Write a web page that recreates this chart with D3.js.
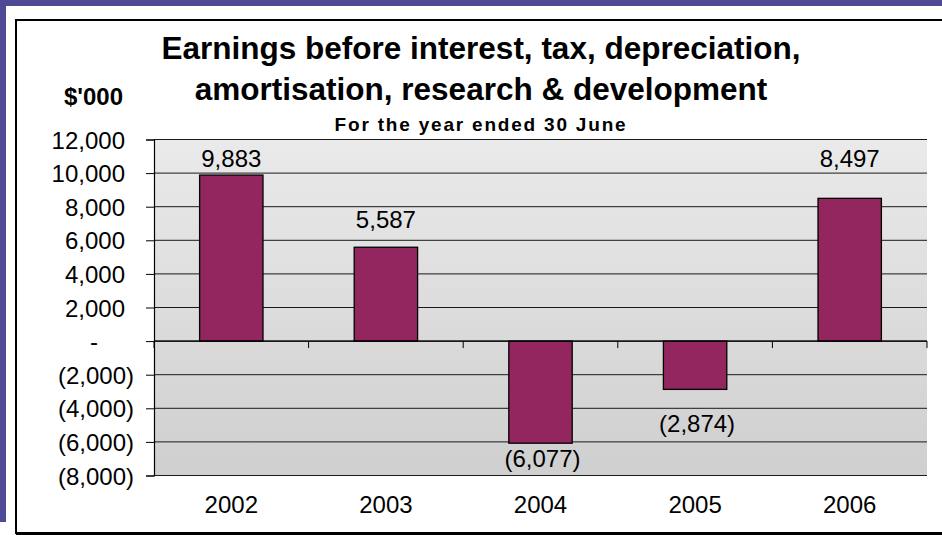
<!DOCTYPE html>
<html>
<head>
<meta charset="utf-8">
<script src="https://cdn.jsdelivr.net/npm/d3@7"></script>
<style>
  body { margin: 0; background: #ffffff; }
  svg { display: block; }
  text { font-family: "Liberation Sans", Arial, Helvetica, sans-serif; fill: #000; }
</style>
</head>
<body>
<svg id="chart" width="942" height="535"></svg>
<script>
// Financial years and EBITDARD in $'000
const years = ["2002", "2003", "2004", "2005", "2006"];
const ebitdaRD = [9883, 5587, -6077, -2874, 8497];
const yTickValues = [-8000, -6000, -4000, -2000, 0, 2000, 4000, 6000, 8000, 10000, 12000];
const titleLines = ["Earnings before interest, tax, depreciation,", "amortisation, research & development"];
const subtitle = "For the year ended 30 June";
const unitLabel = "$'000";

const svg = d3.select("#chart");
const W = 942, H = 535;

// Accounting-style number format: 1,234 / (1,234) / -
const thousands = d3.format(",");
const acct = v => v === 0 ? "-" : v < 0 ? `(${thousands(-v)})` : thousands(v);

// Slide frame
svg.append("rect").attr("x", 0).attr("y", 0).attr("width", W).attr("height", 6).attr("fill", "#4e4a96");
svg.append("rect").attr("x", 0).attr("y", 0).attr("width", 6).attr("height", 522).attr("fill", "#4e4a96");

// Chart box
svg.append("rect")
  .attr("x", 16).attr("y", 20).attr("width", W + 20).attr("height", 513)
  .attr("fill", "#ffffff").attr("stroke", "#000").attr("stroke-width", 2);
svg.append("line").attr("x1", 16).attr("x2", W).attr("y1", 534).attr("y2", 534)
  .attr("stroke", "#000").attr("stroke-width", 2);

const plot = { left: 154, right: 927, top: 139.5, bottom: 475.5 };

const x = d3.scaleBand()
  .domain(years)
  .range([plot.left, plot.right])
  .paddingInner(0.59)
  .paddingOuter(0.295);

const y = d3.scaleLinear()
  .domain([d3.min(yTickValues), d3.max(yTickValues)])
  .range([plot.bottom, plot.top]);

// Plot background gradient
const defs = svg.append("defs");
const grad = defs.append("linearGradient").attr("id", "plotBg")
  .attr("x1", 0).attr("y1", 0).attr("x2", 0).attr("y2", 1);
grad.append("stop").attr("offset", "0%").attr("stop-color", "#eaeaea");
grad.append("stop").attr("offset", "100%").attr("stop-color", "#cfcfcf");

svg.append("rect")
  .attr("x", plot.left).attr("y", plot.top)
  .attr("width", plot.right - plot.left).attr("height", plot.bottom - plot.top)
  .attr("fill", "url(#plotBg)");

// Horizontal gridlines, clipped to the plot width
svg.append("g").selectAll("line")
  .data(yTickValues)
  .join("line")
  .attr("x1", plot.left).attr("x2", plot.right)
  .attr("y1", d => y(d)).attr("y2", d => y(d))
  .attr("stroke", "#1a1a1a").attr("stroke-width", 1);

// Value axis with accounting labels
const yAxis = svg.append("g")
  .attr("transform", `translate(${plot.left},0)`)
  .call(d3.axisLeft(y).tickValues(yTickValues).tickSize(8).tickPadding(0).tickFormat(acct));
yAxis.select(".domain").attr("stroke", "#000").attr("stroke-width", 1.2);
yAxis.selectAll(".tick line").attr("stroke", "#000");
yAxis.selectAll(".tick text")
  .attr("font-size", 24)
  .attr("font-family", '"Liberation Sans", Arial, sans-serif')
  .attr("fill", "#000")
  .attr("dy", "0.36em")
  // digits align; the closing parenthesis hangs to the right, the dash sits in from the digits
  .attr("x", d => d < 0 ? -20 : d === 0 ? -56 : -29);

// Bars
svg.append("g").selectAll("rect")
  .data(years.map((yr, i) => ({ yr, v: ebitdaRD[i] })))
  .join("rect")
  .attr("x", d => x(d.yr))
  .attr("width", x.bandwidth())
  .attr("y", d => y(Math.max(0, d.v)))
  .attr("height", d => Math.abs(y(d.v) - y(0)))
  .attr("fill", "#93265f")
  .attr("stroke", "#000")
  .attr("stroke-width", 1.3);

// Category axis line on zero and boundary ticks
const zeroY = y(0);
svg.append("line")
  .attr("x1", plot.left).attr("x2", plot.right)
  .attr("y1", zeroY).attr("y2", zeroY)
  .attr("stroke", "#000").attr("stroke-width", 1.2);
const boundaries = d3.range(years.length + 1).map(k => plot.left + k * (plot.right - plot.left) / years.length);
svg.append("g").selectAll("line")
  .data(boundaries)
  .join("line")
  .attr("x1", d => d).attr("x2", d => d)
  .attr("y1", zeroY).attr("y2", zeroY + 7)
  .attr("stroke", "#000");

// Category labels
svg.append("g")
  .attr("transform", `translate(0,${plot.bottom})`)
  .call(d3.axisBottom(x).tickSize(0).tickPadding(20))
  .call(g => g.select(".domain").remove())
  .call(g => g.selectAll(".tick text")
    .attr("font-size", 24)
    .attr("font-family", '"Liberation Sans", Arial, sans-serif')
    .attr("fill", "#000"));

// Data labels: tall bars share a row beneath the top edge, negatives stay inside the plot
svg.append("g").selectAll("text")
  .data(years.map((yr, i) => ({ yr, v: ebitdaRD[i] })))
  .join("text")
  .attr("x", d => x(d.yr) + x.bandwidth() / 2 + (d.v < 0 ? 2 : 0))
  .attr("y", d => {
    if (d.v >= 0) return d.v > 8000 ? y(d3.max(yTickValues)) + 27 : y(d.v) - 19;
    return Math.min(y(d.v) + 42.5, plot.bottom - 9);
  })
  .attr("text-anchor", "middle")
  .attr("font-size", 24)
  .text(d => acct(d.v));

// Titles
const cx = 481;
svg.append("text").attr("x", cx).attr("y", 59)
  .attr("text-anchor", "middle").attr("font-size", 31.5).attr("font-weight", "bold")
  .text(titleLines[0]);
svg.append("text").attr("x", cx).attr("y", 100)
  .attr("text-anchor", "middle").attr("font-size", 31.5).attr("font-weight", "bold")
  .text(titleLines[1]);
svg.append("text").attr("x", cx).attr("y", 131)
  .attr("text-anchor", "middle").attr("font-size", 19).attr("font-weight", "bold")
  .attr("letter-spacing", 1.8)
  .text(subtitle);
svg.append("text").attr("x", 123).attr("y", 105)
  .attr("text-anchor", "end").attr("font-size", 24).attr("font-weight", "bold")
  .text(unitLabel);
</script>
</body>
</html>
